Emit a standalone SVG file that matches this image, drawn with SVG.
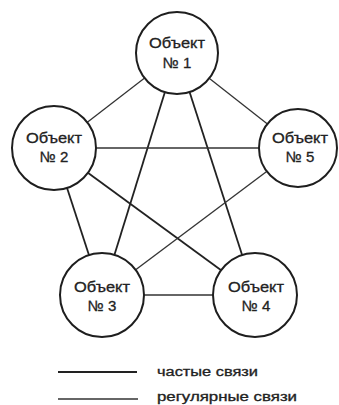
<svg xmlns="http://www.w3.org/2000/svg" width="339" height="405" viewBox="0 0 339 405">
  <style>
    .node circle { fill: #ffffff; stroke: #1e1e1e; stroke-width: 2; }
    .node text, .legend text { font-family: "Liberation Sans", Arial, sans-serif; fill: #222222; text-anchor: middle; stroke: #222222; stroke-width: 0.3; }
    .node text { font-size: 15px; }
    .freq { stroke: #222222; stroke-width: 1.8; fill: none; }
    .reg { stroke: #333333; stroke-width: 1.3; fill: none; }
    .legend text { font-size: 12px; text-anchor: start; }
  </style>
  <rect x="0" y="0" width="339" height="405" fill="#ffffff"/>
  <g id="connectors">
    <line class="reg" x1="177" y1="53" x2="54" y2="148"/>
    <line class="reg" x1="177" y1="53" x2="298" y2="148"/>
    <line class="freq" x1="177" y1="53" x2="102" y2="295"/>
    <line class="freq" x1="177" y1="53" x2="255" y2="295"/>
    <line class="reg" x1="54" y1="148" x2="298" y2="148"/>
    <line class="freq" x1="54" y1="148" x2="102" y2="295"/>
    <line class="freq" x1="54" y1="148" x2="255" y2="295"/>
    <line class="reg" x1="298" y1="148" x2="102" y2="295"/>
    <line class="reg" x1="102" y1="295" x2="255" y2="295"/>
  </g>
  <g id="node1" class="node">
    <circle cx="177" cy="53" r="41"/>
    <text x="177" y="48" textLength="56" lengthAdjust="spacingAndGlyphs">Объект</text>
    <text x="177" y="68">№ 1</text>
  </g>
  <g id="node2" class="node">
    <circle cx="54" cy="148" r="42"/>
    <text x="54" y="143" textLength="56" lengthAdjust="spacingAndGlyphs">Объект</text>
    <text x="54" y="162">№ 2</text>
  </g>
  <g id="node5" class="node">
    <circle cx="298" cy="148" r="39"/>
    <text x="300" y="143" textLength="56" lengthAdjust="spacingAndGlyphs">Объект</text>
    <text x="300" y="162">№ 5</text>
  </g>
  <g id="node3" class="node">
    <circle cx="102" cy="295" r="42"/>
    <text x="102" y="292" textLength="56" lengthAdjust="spacingAndGlyphs">Объект</text>
    <text x="102" y="311">№ 3</text>
  </g>
  <g id="node4" class="node">
    <circle cx="255" cy="295" r="42"/>
    <text x="256" y="292" textLength="56" lengthAdjust="spacingAndGlyphs">Объект</text>
    <text x="256" y="311">№ 4</text>
  </g>
  <g id="legend" class="legend">
    <line class="freq" x1="58" y1="372" x2="137" y2="372"/>
    <text x="157" y="376" textLength="101" lengthAdjust="spacingAndGlyphs">частые связи</text>
    <line class="reg" x1="58" y1="399" x2="138" y2="399"/>
    <text x="157" y="401" textLength="140" lengthAdjust="spacingAndGlyphs">регулярные связи</text>
  </g>
</svg>
